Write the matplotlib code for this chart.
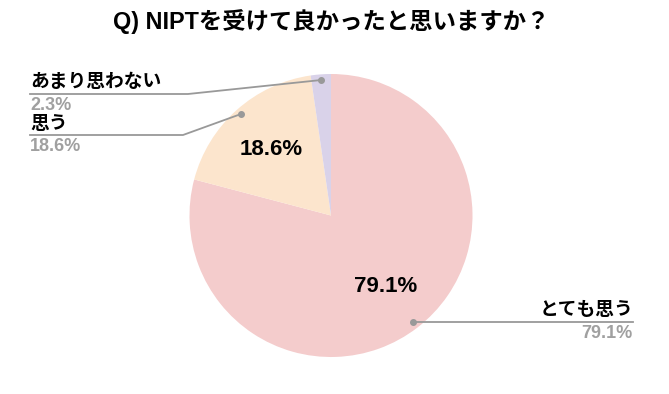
import numpy as np
import matplotlib
matplotlib.use("Agg")
import matplotlib.pyplot as plt

plt.rcParams['font.family'] = ['Liberation Sans', 'Noto Sans CJK JP']

title = 'Q) NIPTを受けて良かったと思いますか？'
labels = ['とても思う', '思う', 'あまり思わない']
values = [79.1, 18.6, 2.3]
colors = ['#F4CCCC', '#FCE5CD', '#D9D2E9']

W, H = 669, 394
def Y(y):
    # pixel row (top-down) -> data y
    return H - y

fig = plt.figure(figsize=(W / 100, H / 100), dpi=100)
ax = fig.add_axes([0, 0, 1, 1])

cx, cy, R = 331, Y(215.5), 141.5
wedges, _ = ax.pie(values, colors=colors, startangle=90, counterclock=False,
                   center=(cx, cy), radius=R,
                   wedgeprops=dict(linewidth=0))
ax.set_xlim(0, W)
ax.set_ylim(0, H)
ax.set_aspect('equal')
ax.axis('off')

# points on each wedge (mid angle)
def mid_point(w, frac):
    a = np.deg2rad((w.theta1 + w.theta2) / 2)
    return cx + frac * R * np.cos(a), cy + frac * R * np.sin(a)

# inner percentages for the two big slices
for w, v in zip(wedges[:2], values[:2]):
    x, y = mid_point(w, 0.63)
    ax.text(x, y, f'{v}%', ha='center', va='center', fontsize=16,
            fontweight='bold', color='black')

lc = '#999999'
gray = '#A0A0A0'
fs = 13.5

# callout: とても思う (right)
px, py = mid_point(wedges[0], 0.95)
ax.plot([px, 633], [py, py], color=lc, lw=1.3)
ax.plot(px, py, 'o', color=lc, ms=4)
ax.text(633, Y(310), labels[0], ha='right', va='center', fontsize=fs,
        fontweight='bold', color='black')
ax.text(633, Y(334), f'{values[0]}%', ha='right', va='center', fontsize=13,
        fontweight='bold', color=gray)

# callout: 思う (left)
px, py = mid_point(wedges[1], 0.96)
ax.plot([px, 183, 30], [py, Y(135), Y(135)], color=lc, lw=1.3)
ax.plot(px, py, 'o', color=lc, ms=4)
ax.text(30, Y(124), labels[1], ha='left', va='center', fontsize=fs,
        fontweight='bold', color='black')
ax.text(30, Y(146), f'{values[1]}%', ha='left', va='center', fontsize=13,
        fontweight='bold', color=gray)

# callout: あまり思わない (left, top)
px, py = mid_point(wedges[2], 0.96)
ax.plot([px, 188, 30], [py, Y(94), Y(94)], color=lc, lw=1.3)
ax.plot(px, py, 'o', color=lc, ms=4)
ax.text(30, Y(82), labels[2], ha='left', va='center', fontsize=fs,
        fontweight='bold', color='black')
ax.text(30, Y(105), f'{values[2]}%', ha='left', va='center', fontsize=13,
        fontweight='bold', color=gray)

ax.text(331, Y(22), title, ha='center', va='center', fontsize=16.8,
        fontweight='bold', color='black')

fig.savefig('out.png', dpi=100)
